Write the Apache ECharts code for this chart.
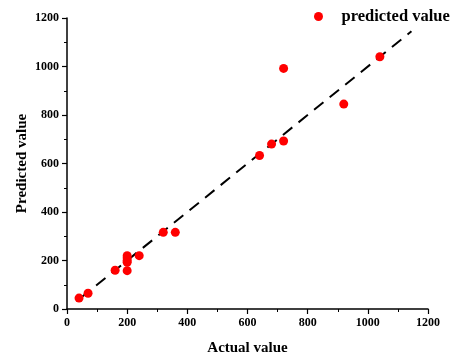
<!DOCTYPE html>
<html><head><meta charset="utf-8">
<script src="https://cdn.jsdelivr.net/npm/echarts@6/dist/echarts.min.js"></script>
<style>html,body{margin:0;padding:0;background:#fff}#c{width:453px;height:356px}</style>
</head><body><div id="c"></div>
<script>
const actual    = [40, 70, 160, 200, 200, 200, 200, 200, 240, 320, 360, 640, 680, 720, 720, 920, 1040];
const predicted = [45, 65, 160, 158, 193, 200, 210, 220, 220, 316, 316, 633, 680, 693, 992, 845, 1040];
const fitLineX  = [45, 1145];
const xTicks = [0, 200, 400, 600, 800, 1000, 1200];
const yTicks = [0, 200, 400, 600, 800, 1000, 1200];
const seriesName = 'predicted value';
const xName = 'Actual value';
const yName = 'Predicted value';

const font = 'Liberation Serif';
const chart = echarts.init(document.getElementById('c'));
const axisCommon = {
  min: 0, max: 1200, interval: 200,
  axisLine: {show: true, lineStyle: {color: '#000', width: 1.5}},
  axisTick: {show: true, inside: false, length: 5, lineStyle: {color: '#000', width: 1.2}},
  minorTick: {show: true, splitNumber: 2, length: 3, lineStyle: {color: '#000', width: 1}},
  splitLine: {show: false},
  axisLabel: {color: '#000', fontFamily: font, fontWeight: 'bold', fontSize: 12},
  nameLocation: 'middle',
  nameMoveOverlap: false,
  nameTextStyle: {color: '#000', fontFamily: font, fontWeight: 'bold', fontSize: 15}
};
chart.setOption({
  animation: false,
  grid: {left: 67, right: 25, top: 18, bottom: 47, outerBoundsMode: 'none', containLabel: false},
  legend: {
    data: [seriesName], top: 3, left: 309, itemWidth: 36, itemHeight: 9, itemGap: 8,
    textStyle: {color: '#000', fontFamily: font, fontWeight: 'bold', fontSize: 16.5}
  },
  xAxis: Object.assign({}, axisCommon, {
    type: 'value', name: xName, nameGap: 32,
    axisLabel: Object.assign({}, axisCommon.axisLabel, {margin: 8, formatter: v => xTicks.includes(v) ? String(v) : ''})
  }),
  yAxis: Object.assign({}, axisCommon, {
    type: 'value', name: yName, nameGap: 37,
    axisLabel: Object.assign({}, axisCommon.axisLabel, {margin: 8, formatter: v => yTicks.includes(v) ? String(v) : ''})
  }),
  series: [
    {
      name: 'fit', type: 'line', data: fitLineX.map(v => [v, v]), symbol: 'none',
      lineStyle: {color: '#000', width: 2, type: [12, 8]}, silent: true, z: 1
    },
    {
      name: seriesName, type: 'scatter', symbol: 'circle', symbolSize: 9,
      itemStyle: {color: '#ff0000', opacity: 1},
      data: actual.map((a, i) => [a, predicted[i]]), z: 2
    }
  ]
});
</script></body></html>
